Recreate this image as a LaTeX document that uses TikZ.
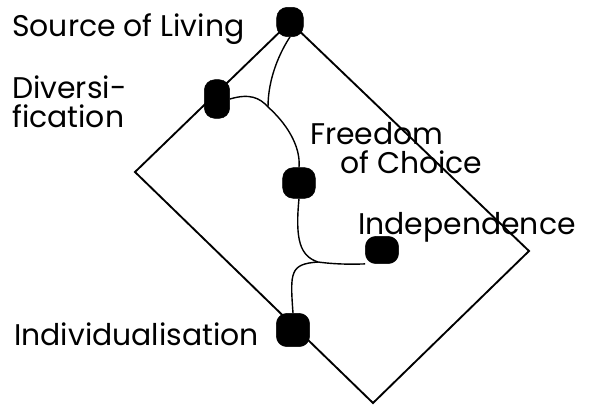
\documentclass[tikz,border=0pt]{standalone}
\usepackage{fontspec}
\setmainfont{Poppins}
\usetikzlibrary{backgrounds}

\begin{document}
\begin{tikzpicture}[x=0.03cm,y=-0.03cm,line join=miter]

  \tikzstyle{blob}=[fill=black,draw=black,rounded corners=9pt,inner sep=0pt]
  \tikzstyle{lbl}=[anchor=base west,inner sep=0pt,align=left,
    font=\fontsize{25.5}{24}\selectfont]
  \tikzstyle{frame}=[line width=1.6pt]
  \tikzstyle{tie}=[line width=1.2pt]

  \useasboundingbox (0,0) rectangle (591,406);

  %% the blobs
  \node  (src)   at (290,22)   [blob,minimum width=0.8cm,minimum height=0.88cm]  {};
  \node  (div)   at (217,99)   [blob,minimum width=0.76cm,minimum height=1.16cm] {};
  \node  (free)  at (299,183)  [blob,minimum width=0.98cm,minimum height=0.92cm] {};
  \node  (indep) at (382,250)  [blob,minimum width=1.0cm,minimum height=0.82cm]  {};
  \node  (indiv) at (293,330)  [blob,minimum width=1.0cm,minimum height=1.0cm]   {};

  %% corners of the tilted frame
  \coordinate (west)  at (135,172);
  \coordinate (south) at (373,403);
  \coordinate (east)  at (529,251);

  %% junctions of the wiggly lines
  \coordinate (j1) at (268,107);
  \coordinate (j2) at (318,262);

  \begin{scope}[on background layer]
    \draw [frame] (src.center) -- (west) -- (south) -- (east) -- cycle;

    \draw [tie] (src.south) .. controls (280,52) and (268,78) .. (j1);
    \draw [tie] (div.east) .. controls (250,93) and (260,98) .. (j1)
                           .. controls (285,122) and (301,145) .. (free.north);
    \draw [tie] (free.south) .. controls (295,240) and (300,256) .. (j2)
                             .. controls (340,265) and (360,264) .. (indep.south west);
    \draw [tie] (j2) .. controls (290,264) and (290,272) .. (indiv.north);
  \end{scope}

  %% labels (base = last line)
  \node  (srclbl)   at (12,36)   [lbl] {Source of Living};
  \node  (divlbl)   at (12,127)  [lbl] {Diversi-\\fication};
  \node  (freelbl)  at (310,173) [lbl] {Freedom\\\hspace*{0.9cm}of Choice};
  \node  (indeplbl) at (358,234) [lbl] {Independence};
  \node  (indivlbl) at (14,345)  [lbl] {Individualisation};

\end{tikzpicture}
\end{document}
